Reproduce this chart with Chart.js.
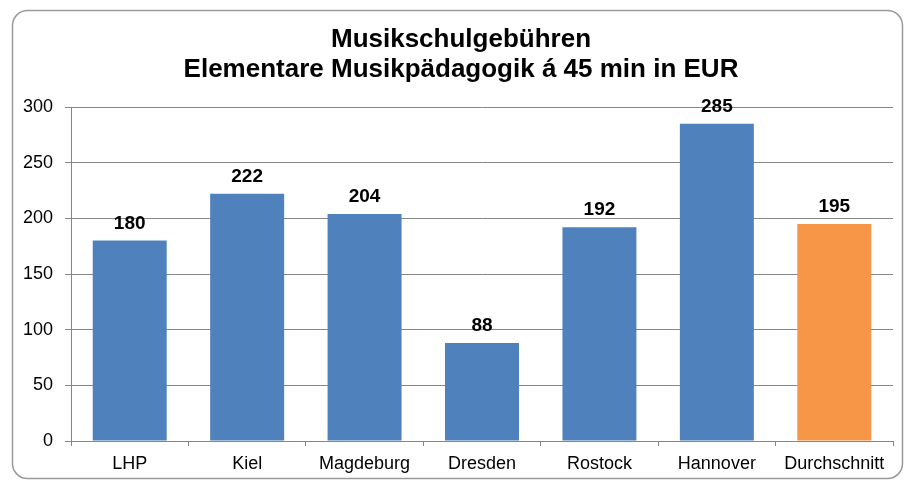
<!DOCTYPE html>
<html lang="de">
<head>
    <meta charset="UTF-8">
    <title>Musikschulgebühren</title>
    <script src="https://cdn.jsdelivr.net/npm/chart.js"></script>
    <style>
        html, body { margin: 0; padding: 0; background: #fff; }
        #wrap { width: 904px; height: 482px; }
    </style>
</head>
<body>
    <div id="wrap"><canvas id="chart" width="904" height="482"></canvas></div>

    <script>
        // Daten
        const staedte = ['LHP', 'Kiel', 'Magdeburg', 'Dresden', 'Rostock', 'Hannover', 'Durchschnitt'];
        const gebuehren = [180, 222, 204, 88, 192, 285, 195];
        const farben = ['#4F81BD', '#4F81BD', '#4F81BD', '#4F81BD', '#4F81BD', '#4F81BD', '#F79646'];
        const titelZeilen = ['Musikschulgebühren', 'Elementare Musikpädagogik á 45 min in EUR'];

        // Rahmen und Titel
        const rahmenPlugin = {
            id: 'rahmen',
            beforeDraw(chart) {
                const ctx = chart.ctx;
                ctx.save();
                ctx.fillStyle = '#fff';
                ctx.fillRect(0, 0, chart.width, chart.height);
                ctx.strokeStyle = '#9a9a9a';
                ctx.lineWidth = 1.5;
                ctx.beginPath();
                ctx.roundRect(12.5, 10.5, 890, 468, 15);
                ctx.stroke();
                ctx.fillStyle = '#000';
                ctx.font = 'bold 26px "Liberation Sans", Arial, sans-serif';
                ctx.textAlign = 'center';
                ctx.textBaseline = 'alphabetic';
                ctx.fillText(titelZeilen[0], 461, 47);
                ctx.fillText(titelZeilen[1], 461, 77);
                ctx.restore();
            }
        };

        // Werte über den Balken
        const wertePlugin = {
            id: 'werte',
            afterDatasetsDraw(chart) {
                const ctx = chart.ctx;
                const meta = chart.getDatasetMeta(0);
                ctx.save();
                ctx.fillStyle = '#000';
                ctx.font = 'bold 19px "Liberation Sans", Arial, sans-serif';
                ctx.textAlign = 'center';
                ctx.textBaseline = 'alphabetic';
                meta.data.forEach((bar, i) => {
                    ctx.fillText(gebuehren[i], bar.x, bar.y - 12);
                });
                ctx.restore();
            }
        };

        const ctx = document.getElementById('chart').getContext('2d');
        new Chart(ctx, {
            type: 'bar',
            data: {
                labels: staedte,
                datasets: [{
                    data: gebuehren,
                    backgroundColor: farben,
                    borderWidth: 0,
                    barPercentage: 0.63,
                    categoryPercentage: 1
                }]
            },
            options: {
                responsive: false,
                animation: false,
                layout: { padding: { top: 107, right: 11, left: 0, bottom: 0 } },
                plugins: {
                    legend: { display: false },
                    title: { display: false },
                    tooltip: { enabled: false }
                },
                scales: {
                    x: {
                        grid: {
                            offset: true,
                            drawOnChartArea: false,
                            color: '#868686',
                            tickLength: 5
                        },
                        border: { color: '#868686' },
                        ticks: {
                            color: '#000',
                            padding: 7,
                            maxRotation: 0,
                            font: { family: '"Liberation Sans", Arial, sans-serif', size: 18 }
                        },
                        afterFit(scale) { scale.height = 41; }
                    },
                    y: {
                        min: 0,
                        max: 300,
                        ticks: {
                            stepSize: 50,
                            color: '#000',
                            padding: 12,
                            font: { family: '"Liberation Sans", Arial, sans-serif', size: 18 }
                        },
                        grid: {
                            color: '#868686',
                            tickLength: 6
                        },
                        border: { color: '#868686' },
                        afterFit(scale) { scale.width = 71; }
                    }
                }
            },
            plugins: [rahmenPlugin, wertePlugin]
        });
    </script>
</body>
</html>
